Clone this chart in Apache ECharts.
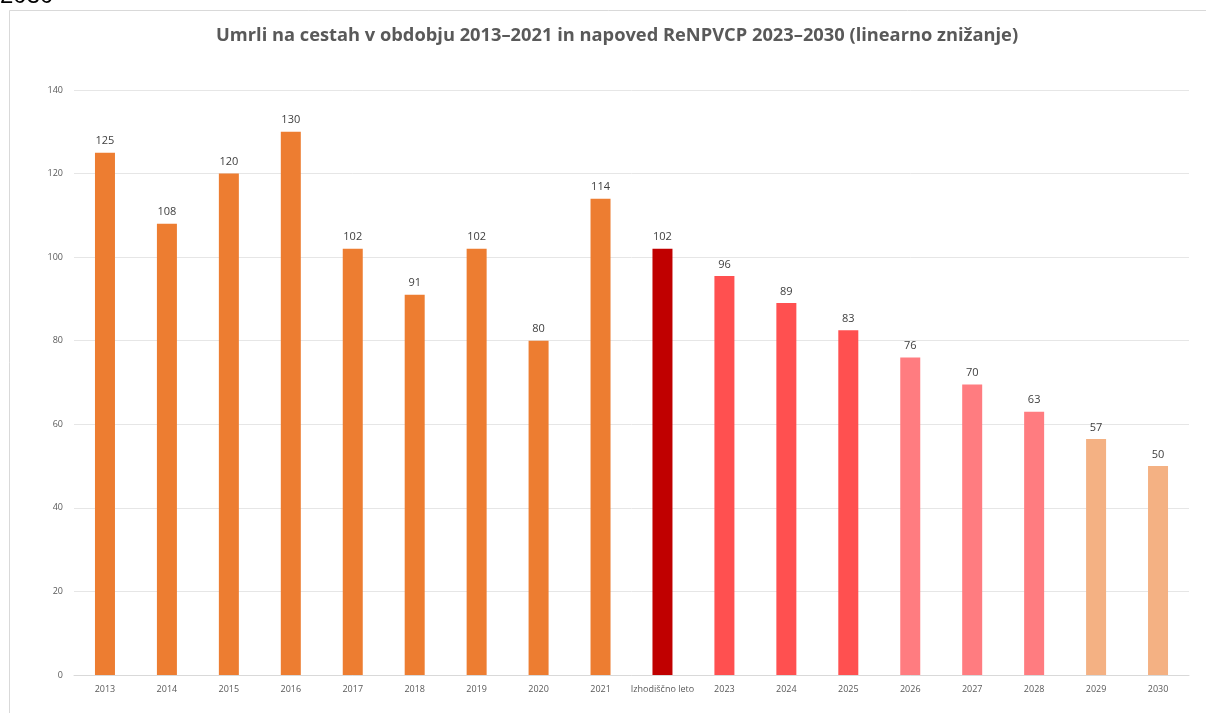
<!DOCTYPE html>
<html>
<head>
<meta charset="utf-8">
<script src="https://cdn.jsdelivr.net/npm/echarts@6/dist/echarts.min.js"></script>
<style>html,body{margin:0;padding:0;background:#fff}#c{width:1206px;height:713px}</style>
</head>
<body>
<div id="c"></div>
<script>
const categories = ['2013','2014','2015','2016','2017','2018','2019','2020','2021','Izhodiščno leto','2023','2024','2025','2026','2027','2028','2029','2030'];
const values = [125,108,120,130,102,91,102,80,114,102,95.5,89,82.5,76,69.5,63,56.5,50];
const colors = ['#ED7D31','#ED7D31','#ED7D31','#ED7D31','#ED7D31','#ED7D31','#ED7D31','#ED7D31','#ED7D31','#C00000','#FF5050','#FF5050','#FF5050','#FF7C80','#FF7C80','#FF7C80','#F4B183','#F4B183'];
const yTicks = [0,20,40,60,80,100,120,140];
const titleText = 'Umrli na cestah v obdobju 2013–2021 in napoved ReNPVCP 2023–2030 (linearno znižanje)';
const font = 'Open Sans, Noto Sans, sans-serif';

const chart = echarts.init(document.getElementById('c'));
chart.setOption({
  animation: false,
  backgroundColor: '#fff',
  graphic: [
    {type:'rect', shape:{x:9.5,y:10.5,width:1220,height:720}, style:{fill:'none', stroke:'#D9D9D9', lineWidth:1}, z:-1},
    {type:'text', left:0, top:-16, style:{text:'2030', font:'24px Liberation Sans, sans-serif', fill:'#000'}}
  ],
  title: {
    text: titleText, left: 211, top: 22,
    textStyle: {fontFamily: font, fontSize: 18.3, fontWeight: 'bold', color: '#595959'}
  },
  grid: {left: 74, right: 17, top: 90, bottom: 38, containLabel: false},
  xAxis: {
    type: 'category', data: categories,
    axisLine: {lineStyle: {color: '#D9D9D9'}},
    axisTick: {show: false},
    axisLabel: {color: '#595959', fontSize: 9, fontFamily: font, margin: 10, interval: 0}
  },
  yAxis: {
    type: 'value', min: 0, max: 140, interval: 20,
    axisLine: {show: false}, axisTick: {show: false},
    splitLine: {lineStyle: {color: '#E6E6E6'}},
    axisLabel: {color: '#595959', fontSize: 9, fontFamily: font, margin: 11}
  },
  series: [{
    type: 'bar', barWidth: 20,
    data: values.map((v,i)=>({value:v, itemStyle:{color:colors[i]}})),
    label: {show: true, position: 'top', distance: 6, color: '#404040', fontSize: 11, fontFamily: font,
      formatter: p => Math.round(p.value)}
  }]
});
</script>
</body>
</html>
